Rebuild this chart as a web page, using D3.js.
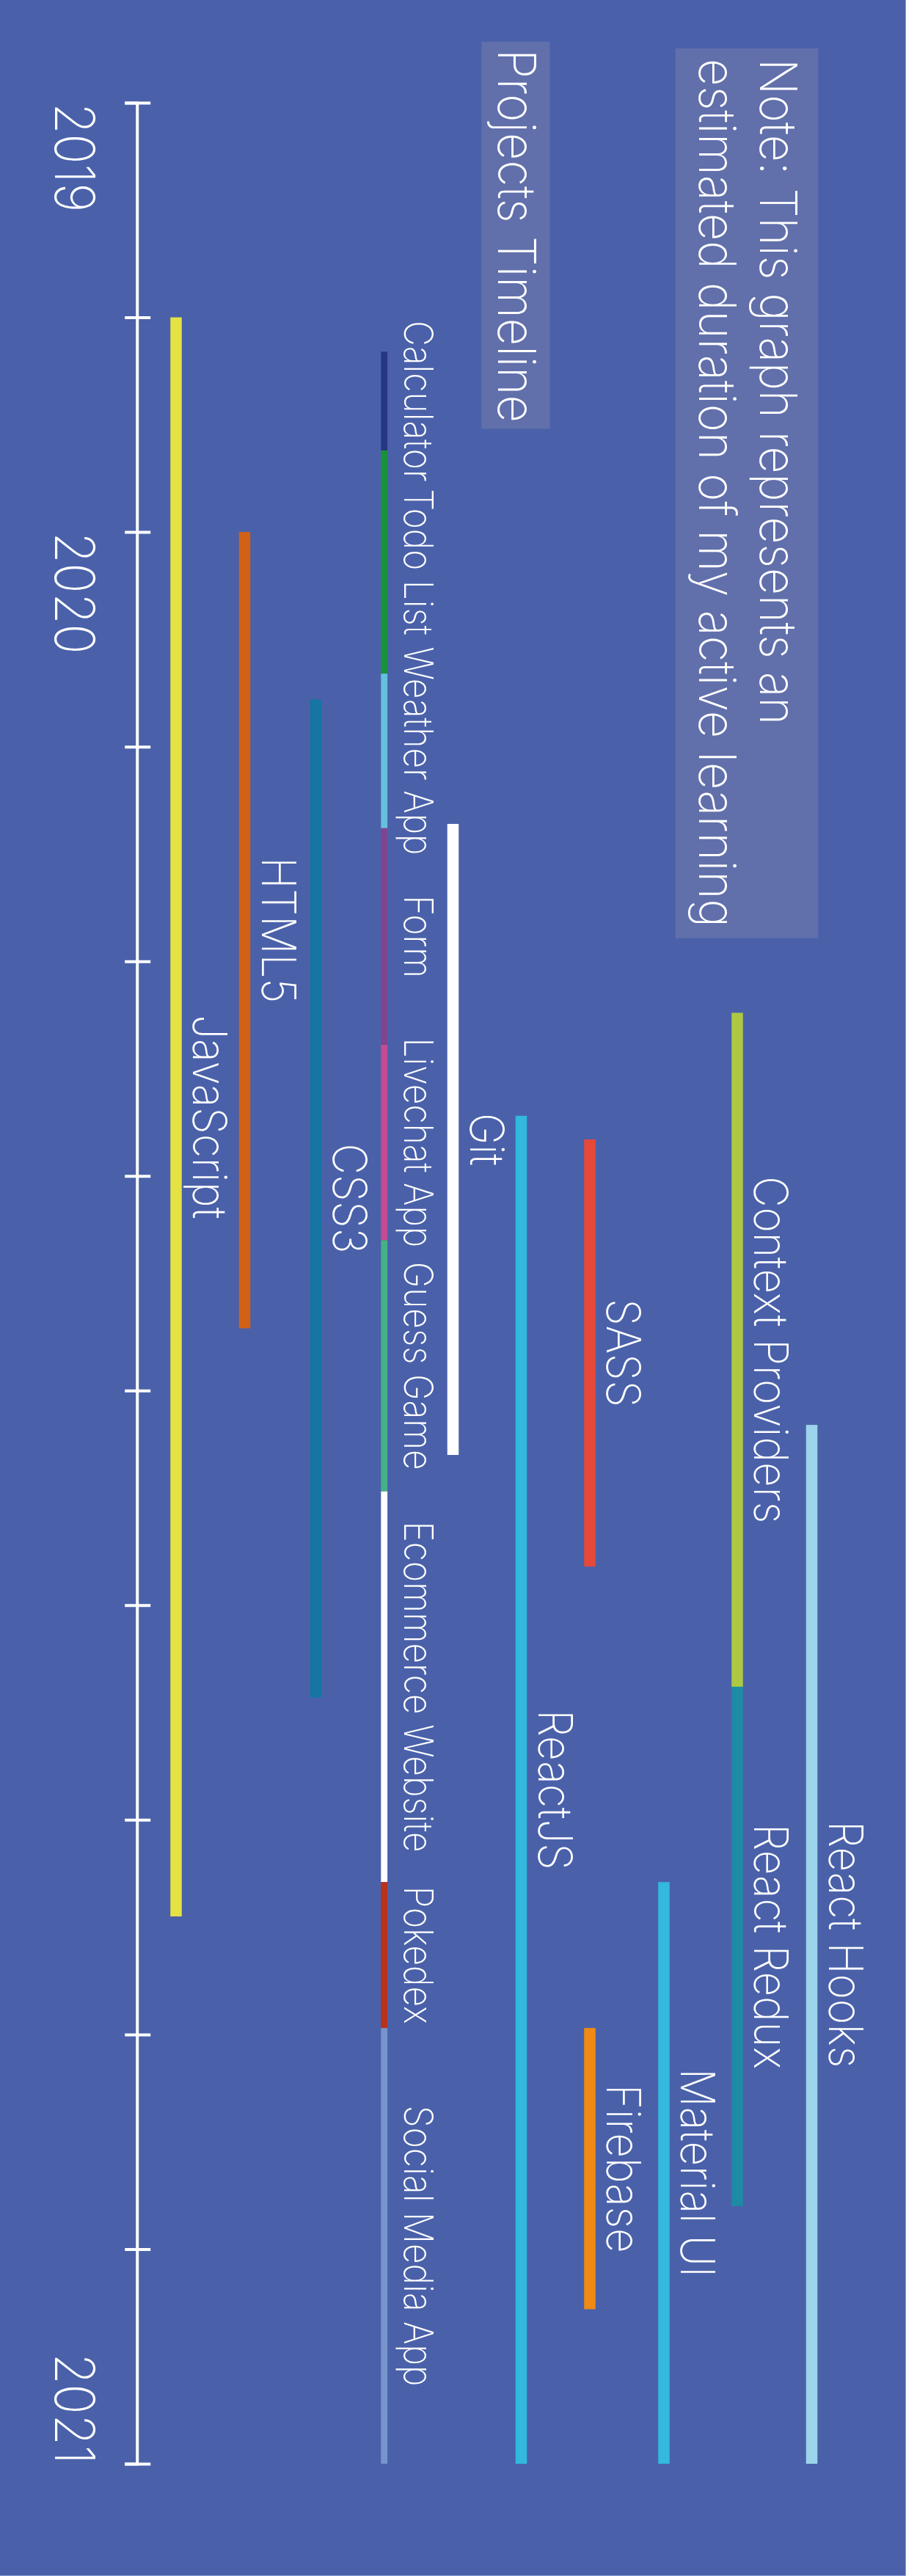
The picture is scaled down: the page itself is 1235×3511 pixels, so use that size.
<!DOCTYPE html>
<html>
<head>
<meta charset="utf-8">
<script src="https://cdn.jsdelivr.net/npm/d3@7"></script>
<style>
  html, body { margin: 0; padding: 0; background: #8d9fd6; }
  svg { display: block; }
  text { font-family: "Inter", "Roboto", sans-serif; font-weight: 200; fill: #ffffff; }
</style>
</head>
<body>
<div id="chart"></div>
<script>
// ---------------- DATA ----------------
// time positions are in axis-step units (0 = first tick, 11 = last tick)
const tickValues = [0, 1, 2, 3, 4, 5, 6, 7, 8, 9, 10, 11];
const tickLabels = ["2019", "", "2020", "", "", "", "", "", "", "", "", "2021"];

const lanes = ["JavaScript", "HTML5", "CSS3", "Projects", "Git", "ReactJS", "SASS/Firebase", "Material UI", "Context/Redux", "React Hooks"];

const skillNames  = ["JavaScript", "HTML5", "CSS3", "Git", "ReactJS", "SASS", "Firebase", "Material UI", "Context Providers", "React Redux", "React Hooks"];
const skillLane   = ["JavaScript", "HTML5", "CSS3", "Git", "ReactJS", "SASS/Firebase", "SASS/Firebase", "Material UI", "Context/Redux", "Context/Redux", "React Hooks"];
const skillStart  = [1.00, 2.00, 2.78, 3.36, 4.72, 4.83, 8.97, 8.29, 4.24, 7.38, 6.16];
const skillEnd    = [8.45, 5.71, 7.43, 6.30, 11.0, 6.82, 10.28, 11.0, 7.38, 9.80, 11.0];
const skillColors = ["#e5e244", "#d06116", "#1675a3", "#ffffff", "#32b9dc", "#e6493a", "#f08a14", "#32b9dc", "#adc944", "#1e8ba4", "#9cd4eb"];

const projectNames  = ["Calculator", "Todo List", "Weather App", "Form", "Livechat App", "Guess Game", "Ecommerce Website", "Pokedex", "Social Media App"];
const projectStart  = [1.16, 1.62, 2.66, 3.38, 4.39, 5.30, 6.47, 8.29, 8.97];
const projectEnd    = [1.62, 2.66, 3.38, 4.39, 5.30, 6.47, 8.29, 8.97, 11.0];
const projectColors = ["#273680", "#18923a", "#67c0dd", "#7f458f", "#c64b93", "#45b187", "#ffffff", "#b8321c", "#7795cb"];

const titleText = "Projects Timeline";
const noteLines = ["Note: This graph represents an", "estimated duration of my active learning"];

// ---------------- LAYOUT ----------------
const W = 1234, H = 3510;
const BG = "#4a61aa", BOX = "#6170ab";

const svg = d3.select("#chart").append("svg").attr("width", W).attr("height", H);
svg.append("rect").attr("width", W).attr("height", H).attr("fill", BG);

// The chart is a horizontal timeline rotated 90deg clockwise.
const OX = 1235;
const root = svg.append("g").attr("transform", `translate(${OX},0) rotate(90)`);
const sx = X => OX - X;   // screen-x -> local y

const t = d3.scaleLinear().domain([0, 11]).range([140, 3358]);
const lane = d3.scaleOrdinal().domain(lanes)
  .range([240, 333.5, 430.5, 523.7, 617.5, 710.5, 804, 905, 1005, 1106.5]);

const barW = 15.5, projW = 8.8;

// title box
root.append("rect").attr("x", 56.9).attr("width", 527.5)
  .attr("y", sx(749.4)).attr("height", 749.4 - 656.5).attr("fill", BOX);
root.append("text").text(titleText)
  .attr("transform", `translate(67,${sx(678.8)}) scale(1,1.1)`)
  .style("font-size", "65px");

// note box
root.append("rect").attr("x", 65.9).attr("width", 1278.7 - 65.9)
  .attr("y", sx(1115.3)).attr("height", 1115.3 - 920.8).attr("fill", BOX);
const noteBase = [1035.7, 952.6];
const noteLen = [908, 1184];
root.selectAll("text.note").data(noteLines).join("text").attr("class", "note")
  .text(d => d)
  .attr("textLength", (d, i) => noteLen[i]).attr("lengthAdjust", "spacingAndGlyphs")
  .attr("transform", (d, i) => `translate(80,${sx(noteBase[i])}) scale(1,1.07)`)
  .style("font-size", "65px");

// axis
const axis = d3.axisBottom(t).tickValues(tickValues)
  .tickFormat((d, i) => tickLabels[i]).tickSizeOuter(0).tickSize(17.5);
const axisX = 187.7;
const ag = root.append("g").attr("transform", `translate(0,${sx(axisX)})`).call(axis);
ag.select(".domain").attr("stroke", "#fff").attr("stroke-width", 4);
ag.selectAll(".tick line").attr("y1", -17.5).attr("y2", 17.5)
  .attr("stroke", "#fff").attr("stroke-width", 4);
ag.selectAll(".tick text")
  .attr("y", 0).attr("dy", null).attr("fill", "#fff")
  .attr("text-anchor", (d, i) => i === tickValues.length - 1 ? "end" : "start")
  .attr("transform", `translate(0,${sx(75) - sx(axisX)}) scale(1,1.1)`)
  .style("font-size", "68px").style("font-family", "Inter, Roboto, sans-serif")
  .style("font-weight", 200);

// skill bars
const skills = skillNames.map((n, i) => ({ name: n, lane: skillLane[i], s: skillStart[i], e: skillEnd[i], c: skillColors[i] }));
root.selectAll("rect.skill").data(skills).join("rect").attr("class", "skill")
  .attr("x", d => t(d.s)).attr("width", d => t(d.e) - t(d.s))
  .attr("y", d => sx(lane(d.lane) + barW / 2)).attr("height", barW)
  .attr("fill", d => d.c);
root.selectAll("text.skill").data(skills).join("text").attr("class", "skill")
  .text(d => d.name).attr("text-anchor", "middle")
  .attr("transform", d => `translate(${t((d.s + d.e) / 2)},${sx(lane(d.lane) + 23)}) scale(1,1.09)`)
  .style("font-size", "58.5px");

// project segments
const projects = projectNames.map((n, i) => ({ name: n, s: projectStart[i], e: projectEnd[i], c: projectColors[i] }));
const pX = lane("Projects");
root.selectAll("rect.proj").data(projects).join("rect").attr("class", "proj")
  .attr("x", d => t(d.s)).attr("width", d => t(d.e) - t(d.s))
  .attr("y", sx(pX + projW / 2)).attr("height", projW)
  .attr("fill", d => d.c);
root.selectAll("text.proj").data(projects).join("text").attr("class", "proj")
  .text(d => d.name).attr("text-anchor", "middle")
  .attr("transform", d => `translate(${t((d.s + d.e) / 2)},${sx(pX + 27)}) scale(1,1.13)`)
  .style("font-size", "48px");
</script>
</body>
</html>
